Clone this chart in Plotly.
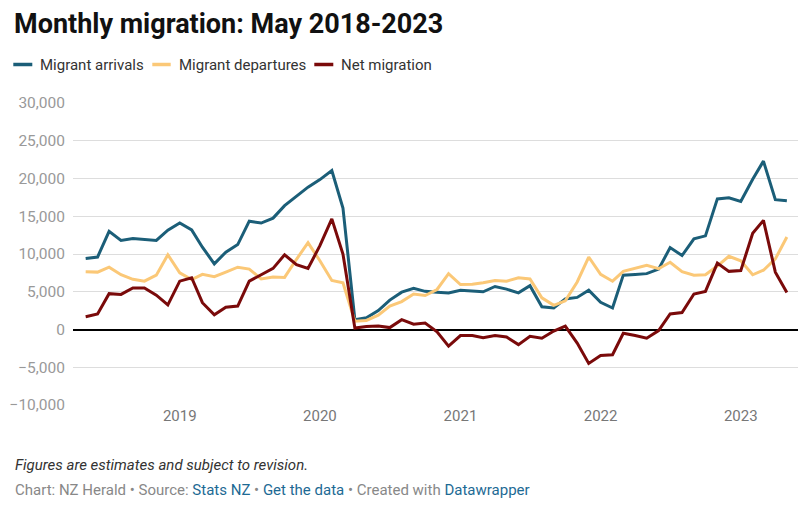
import pandas as pd
import plotly.graph_objects as go

months = pd.date_range("2018-05-01", periods=61, freq="MS")

arrivals = [9400, 9600, 13000, 11800, 12050, 11900, 11800, 13150, 14100, 13200,
            10900, 8700, 10250, 11250, 14350, 14100, 14750, 16400, 17700, 18850,
            19850, 21050, 16100, 1300, 1550, 2500, 3900, 4950, 5450, 5050,
            4950, 4850, 5200, 5100, 5000, 5700, 5350, 4850, 5800, 3000,
            2850, 4050, 4250, 5200, 3600, 2850, 7200, 7300, 7400, 8000,
            10850, 9800, 12000, 12400, 17300, 17450, 16950, 19900, 22300, 17200,
            17050]

departures = [7650, 7600, 8250, 7250, 6650, 6400, 7200, 9900, 7500, 6600,
              7300, 7000, 7600, 8250, 8000, 6700, 6950, 6900, 9300, 11500,
              9100, 6500, 6200, 1100, 1200, 1900, 3100, 3700, 4700, 4500,
              5300, 7400, 5950, 6000, 6200, 6500, 6400, 6850, 6700, 4200,
              3200, 3800, 6300, 9600, 7300, 6400, 7700, 8150, 8500, 8050,
              8900, 7650, 7200, 7250, 8400, 9700, 9100, 7250, 7850, 9350,
              12250]

net = [1700, 2050, 4750, 4650, 5500, 5500, 4550, 3250, 6400, 6850,
       3550, 1950, 2950, 3100, 6400, 7300, 8100, 9900, 8600, 8100,
       11100, 14650, 10000, 200, 400, 450, 250, 1300, 700, 850,
       -300, -2200, -800, -800, -1100, -800, -1000, -2000, -900, -1150,
       -200, 450, -1800, -4500, -3450, -3350, -500, -800, -1150, -150,
       2050, 2250, 4700, 5050, 8800, 7700, 7800, 12750, 14450, 7600,
       4900]

series_names = ["Migrant arrivals", "Migrant departures", "Net migration"]
series_colors = ["#1b5e78", "#fbc877", "#7a0a0a"]
year_ticks = ["2019-01-01", "2020-01-01", "2021-01-01", "2022-01-01", "2023-01-01"]
year_labels = ["2019", "2020", "2021", "2022", "2023"]
y_ticks = [-10000, -5000, 0, 5000, 10000, 15000, 20000, 25000, 30000]
y_labels = ["\u221210,000", "\u22125,000", "0", "5,000", "10,000", "15,000", "20,000", "25,000", "30,000"]

fig = go.Figure()
for name, vals, col in zip(series_names, [arrivals, departures, net], series_colors):
    fig.add_trace(go.Scatter(x=months, y=vals, name=name, mode="lines",
                             line=dict(color=col, width=3), showlegend=False))

# page has an 8px body margin; positions below are in figure pixels
OFF = 8
W, H = 812, 509
PW, PH = 725, 302
L, T = 73 - OFF, 103 - OFF
R = W - L - PW
B = H - T - PH


def px(x):
    return (x - OFF - L) / PW


def py(y):
    return (T + PH - (y - OFF)) / PH


shapes = []
annotations = []
legend_pos = [(13.3, 32.3, 38.3), (152.3, 170.7, 177.3), (314.3, 333.3, 339.3)]
for (x0, x1, xt), name, col in zip(legend_pos, series_names, series_colors):
    shapes.append(dict(type="line", xref="paper", yref="paper",
                       x0=px(x0), x1=px(x1), y0=py(64.5), y1=py(64.5),
                       line=dict(color=col, width=3.5)))
    annotations.append(dict(text=name, xref="paper", yref="paper",
                            x=px(xt), y=py(64.5), xanchor="left", yanchor="middle",
                            showarrow=False, font=dict(size=15, color="#333333")))

annotations.append(dict(text="<i>Figures are estimates and subject to revision.</i>",
                        xref="paper", yref="paper", x=px(13), y=py(465),
                        xanchor="left", yanchor="middle", showarrow=False,
                        font=dict(size=15, color="#333333")))
annotations.append(dict(text="Chart: NZ Herald \u2022 Source: <span style='color:#1d6a94'>Stats NZ</span> \u2022 "
                             "<span style='color:#1d6a94'>Get the data</span> \u2022 Created with "
                             "<span style='color:#1d6a94'>Datawrapper</span>",
                        xref="paper", yref="paper", x=px(13), y=py(490),
                        xanchor="left", yanchor="middle", showarrow=False,
                        font=dict(size=15, color="#888888")))

fig.update_layout(
    width=W, height=H,
    margin=dict(l=L, r=R, t=T, b=B, pad=0, autoexpand=False),
    paper_bgcolor="white", plot_bgcolor="white",
    font=dict(family="Roboto", color="#333333"),
    title=dict(text="<b>Monthly migration: May 2018-2023</b>",
               x=(14 - OFF) / W, xanchor="left", xref="container",
               y=1 - (23.5 - OFF) / H, yanchor="middle", yref="container",
               font=dict(size=27, color="#111111", family="Roboto")),
    showlegend=False,
    xaxis=dict(type="date", range=["2018-03-29", "2023-05-30"], automargin=False,
               tickmode="array", tickvals=year_ticks, ticktext=year_labels,
               showgrid=False, zeroline=False, showline=False, ticks="",
               tickfont=dict(size=15, color="#777777")),
    yaxis=dict(range=[-10000, 30000], tickmode="array", tickvals=y_ticks, ticktext=y_labels,
               automargin=False,
               showgrid=True, gridcolor="#dddddd", gridwidth=1,
               zeroline=True, zerolinecolor="#000000", zerolinewidth=2,
               showline=False, ticks="", ticklabelstandoff=7,
               tickfont=dict(size=15.5, color="#999999")),
    shapes=shapes,
    annotations=annotations,
)

fig.write_html("out.html")
